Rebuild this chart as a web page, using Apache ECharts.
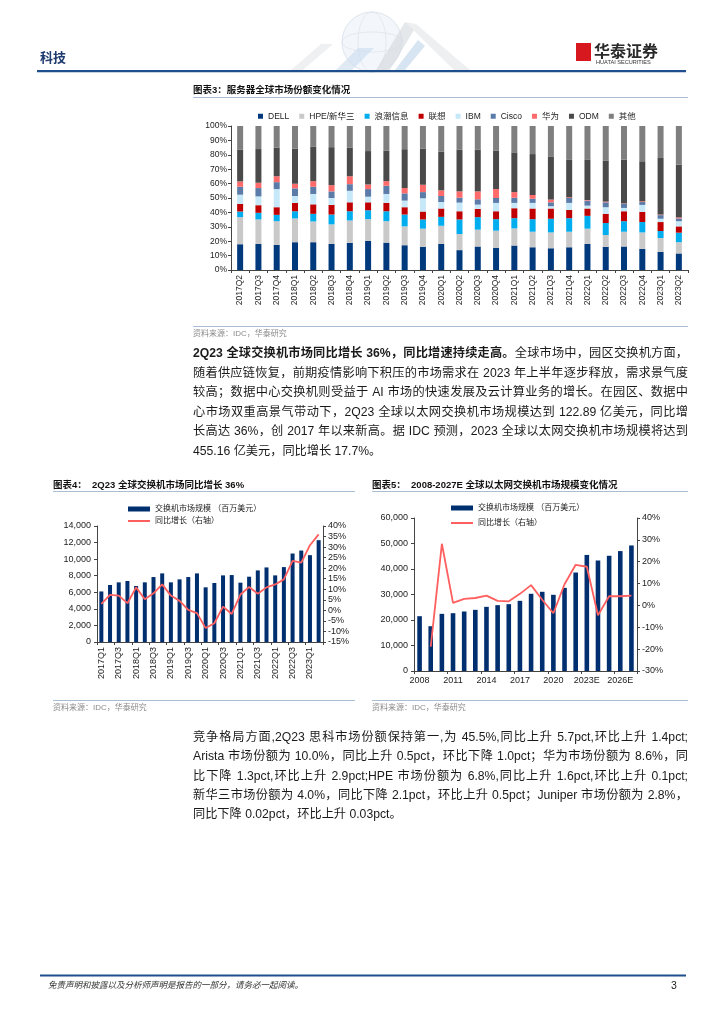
<!DOCTYPE html>
<html lang="zh-CN"><head><meta charset="utf-8">
<script src="https://cdn.jsdelivr.net/npm/echarts@6/dist/echarts.min.js"></script>
<style>
html,body{margin:0;padding:0;background:#fff;}
#chart{position:absolute;left:0;top:0;width:724px;height:1024px;}
.ln{position:absolute;left:193px;width:495px;height:16px;line-height:16px;font-family:"Liberation Sans","Noto Sans CJK SC",sans-serif;font-size:12.2px;color:#1a1a1a;text-align:justify;text-align-last:justify;overflow:visible;}
.ln.last{text-align-last:left;}
.ln b{font-weight:bold;}
</style></head>
<body>
<div id="chart"></div>
<div class="ln" style="top:345px"><b>2Q23 全球交换机市场同比增长 36%，同比增速持续走高。</b>全球市场中，园区交换机方面，</div>
<div class="ln" style="top:364.5px">随着供应链恢复，前期疫情影响下积压的市场需求在 2023 年上半年逐步释放，需求景气度</div>
<div class="ln" style="top:384px">较高；数据中心交换机则受益于 AI 市场的快速发展及云计算业务的增长。在园区、数据中</div>
<div class="ln" style="top:403.5px">心市场双重高景气带动下，2Q23 全球以太网交换机市场规模达到 122.89 亿美元，同比增</div>
<div class="ln" style="top:423px">长高达 36%，创 2017 年以来新高。据 IDC 预测，2023 全球以太网交换机市场规模将达到</div>
<div class="ln last" style="top:442.5px">455.16 亿美元，同比增长 17.7%。</div>
<div class="ln" style="top:729px">竞争格局方面,2Q23 思科市场份额保持第一,为 45.5%,同比上升 5.7pct,环比上升 1.4pct;</div>
<div class="ln" style="top:748px">Arista 市场份额为 10.0%，同比上升 0.5pct，环比下降 1.0pct；华为市场份额为 8.6%，同</div>
<div class="ln" style="top:767.5px">比下降 1.3pct,环比上升 2.9pct;HPE 市场份额为 6.8%,同比上升 1.6pct,环比上升 0.1pct;</div>
<div class="ln" style="top:787px">新华三市场份额为 4.0%，同比下降 2.1pct，环比上升 0.5pct；Juniper 市场份额为 2.8%，</div>
<div class="ln last" style="top:806px">同比下降 0.02pct，环比上升 0.03pct。</div>
<script>
// ---------- Chart 3: server market share ----------
const serverQuarters = ['2017Q2','2017Q3','2017Q4','2018Q1','2018Q2','2018Q3','2018Q4','2019Q1','2019Q2','2019Q3','2019Q4','2020Q1','2020Q2','2020Q3','2020Q4','2021Q1','2021Q2','2021Q3','2021Q4','2022Q1','2022Q2','2022Q3','2022Q4','2023Q1','2023Q2'];
const dell   = [17.9,18.1,17.4,19.3,19.3,18.1,18.8,20.2,19.0,17.2,16.1,18.1,13.8,16.3,15.4,17.0,15.8,15.1,15.8,18.1,16.1,16.3,14.7,12.6,11.5];
const hpeH3c = [18.8,17.0,16.5,16.5,14.4,13.6,15.6,15.1,14.9,13.1,12.6,12.6,11.2,11.7,11.9,11.9,10.8,11.0,10.8,10.6,8.2,10.3,11.4,9.6,7.8];
const inspur = [3.9,4.6,4.4,5.0,5.3,6.8,6.4,6.2,6.9,8.2,6.4,6.2,10.1,8.7,8.0,7.1,8.7,9.5,9.4,8.9,8.3,7.3,7.2,4.9,6.6];
const lenovo = [5.3,5.3,5.3,5.8,6.6,6.7,6.2,5.5,5.8,5.1,5.5,5.8,5.7,5.7,5.5,6.9,7.4,7.1,5.7,5.1,6.4,6.9,7.1,6.2,4.4];
const ibm    = [6.4,6.1,12.6,4.8,7.2,4.8,8.0,3.9,6.2,4.6,9.2,4.5,6.0,3.0,5.8,3.7,3.9,1.6,4.9,2.0,4.6,2.3,4.8,2.3,3.6];
const cisco  = [5.5,5.8,4.8,5.3,5.0,4.6,4.6,5.3,5.7,5.0,4.3,4.2,3.4,3.7,3.4,3.6,2.9,2.7,3.4,3.5,3.4,3.0,2.0,2.5,1.9];
const huawei = [3.7,3.7,4.1,3.2,3.9,4.3,5.5,3.2,3.2,3.7,5.1,3.9,4.4,5.5,6.2,3.9,2.6,1.9,0.5,0.4,0.5,0.2,0.5,0.4,0.7];
const odm    = [22.2,23.4,20.0,24.3,24.1,26.4,20.0,23.2,21.3,27.0,25.2,27.0,29.1,29.1,26.8,27.6,28.4,30.0,26.3,28.2,28.6,30.3,27.8,39.3,36.6];
const others = [16.3,16.0,14.9,15.8,14.2,14.7,14.9,17.4,17.0,16.1,15.6,17.7,16.3,16.3,17.0,18.3,19.5,21.1,23.2,23.2,23.9,23.4,24.5,22.2,26.9];
const vendorNames = ['DELL','HPE/新华三','浪潮信息','联想','IBM','Cisco','华为','ODM','其他'];
const vendorColors = ['#003a7d','#c9c9c9','#00aeef','#c00000','#c6e8f8','#5b7ca8','#ff6b6b','#4a4a4a','#7f7f7f'];
const vendorData = [dell,hpeH3c,inspur,lenovo,ibm,cisco,huawei,odm,others];

// ---------- Chart 4: quarterly switch market ----------
const switchQuarters = ['2017Q1','2017Q2','2017Q3','2017Q4','2018Q1','2018Q2','2018Q3','2018Q4','2019Q1','2019Q2','2019Q3','2019Q4','2020Q1','2020Q2','2020Q3','2020Q4','2021Q1','2021Q2','2021Q3','2021Q4','2022Q1','2022Q2','2022Q3','2022Q4','2023Q1','2023Q2'];
const switchRevenue = [6100,6880,7200,7360,6760,7200,7840,8280,7200,7560,7840,8280,6600,7120,8040,8080,7160,7880,8640,9000,8040,9040,10680,11040,10480,12289];
const switchYoY = [3.1,7.3,7.0,3.4,10.9,5.3,8.1,12.3,7.0,4.5,0.2,-1.3,-8.4,-6.1,1.8,-1.7,7.5,11.1,7.9,10.9,12.3,14.7,23.5,22.6,30.9,36.0];

// ---------- Chart 5: annual ethernet switch market ----------
const years = ['2008','2009','2010','2011','2012','2013','2014','2015','2016','2017','2018','2019','2020','2021','2022','2023E','2024E','2025E','2026E','2027E'];
const marketSize = [21490,17560,22410,22670,23330,23980,25160,25820,26210,27520,30280,31060,29880,32600,38620,45516,43340,45190,47030,49230];
const marketYoY = [null,-18.9,28.2,1.2,3.0,3.4,4.5,2.1,1.9,5.3,9.3,2.6,-3.6,9.7,18.6,17.7,-4.5,4.2,4.2,4.5];

const barName = '交换机市场规模 （百万美元）';
const lineName = '同比增长（右轴）';
const FONT = '"Liberation Sans","Noto Sans CJK SC",sans-serif';
const navy = '#002f6f', salmon = '#ff5f5f', axisC = '#444', labelC = '#222';
const comma = v => String(v).replace(/\B(?=(\d{3})+(?!\d))/g, ',');

function txt(x, y, text, size, opts) {
  opts = opts || {};
  return {type:'text', z:10, style:{x:x, y:y, text:text, fill:opts.fill||'#111',
    font:(opts.style||'normal')+' '+(opts.weight||'normal')+' '+size+'px '+(opts.family||FONT),
    textAlign:opts.align||'left', textVerticalAlign:'middle'}};
}
function hline(x1, x2, y, color, w) {
  return {type:'line', z:5, shape:{x1:x1,y1:y,x2:x2,y2:y}, style:{stroke:color, lineWidth:w||1}};
}
function poly(points, fill) {
  return {type:'polygon', z:1, shape:{points:points}, style:{fill:fill, opacity:0.6}};
}

const graphics = [
  // header decoration
  {type:'circle', z:1, shape:{cx:372, cy:42, r:30}, style:{fill:'rgba(232,238,245,0.5)', stroke:'#dde4ec', lineWidth:1}},
  {type:'ellipse', z:1, shape:{cx:372, cy:42, rx:14, ry:30}, style:{fill:'none', stroke:'#e0e6ed', lineWidth:0.8}},
  {type:'ellipse', z:1, shape:{cx:372, cy:42, rx:30, ry:10}, style:{fill:'none', stroke:'#e0e6ed', lineWidth:0.8}},
  poly([[291,70],[303,70],[333,44],[321,44]], '#e3e6ea'),
  poly([[336,70],[352,70],[374,48],[358,48]], '#c9dcef'),
  poly([[376,70],[390,70],[414,30],[405,22]], '#d3d8de'),
  poly([[405,22],[416,24],[470,70],[454,70]], '#e1e4e8'),
  poly([[395,70],[405,70],[425,46],[418,40]], '#bcd2ea'),
  // header
  txt(40, 58, '科技', 13, {weight:'bold', fill:'#1f3a6e'}),
  {type:'rect', z:5, shape:{x:37, y:70, width:649, height:2.2}, style:{fill:'#1f4e8c'}},
  {type:'rect', z:5, shape:{x:576, y:43, width:15, height:18}, style:{fill:'#d7191f'}},
  poly([[583.5,45],[589,51],[583.5,57],[578,51]], '#ffffff'),
  {type:'rect', z:6, shape:{x:582, y:50, width:3, height:9}, style:{fill:'#d7191f'}},
  txt(594, 51, '华泰证券', 16, {weight:'bold', fill:'#2a2a2a', family:'"Noto Sans CJK SC",sans-serif'}),
  txt(596, 62.5, 'HUATAI SECURITIES', 5.6, {fill:'#333'}),
  // chart 3 title & source
  txt(193, 90, '图表3：服务器全球市场份额变化情况', 9.5, {weight:'bold'}),
  hline(193, 688, 97.5, '#a9bdd5', 1),
  hline(193, 688, 326.5, '#a9bdd5', 1),
  txt(193, 334, '资料来源：IDC，华泰研究', 8, {fill:'#8a8a8a'}),
  // chart 4 title & source
  txt(53, 485, '图表4：  2Q23 全球交换机市场同比增长 36%', 9.5, {weight:'bold'}),
  hline(53, 355, 491.5, '#a9bdd5', 1),
  hline(53, 355, 700.5, '#a9bdd5', 1),
  txt(53, 708, '资料来源：IDC，华泰研究', 8, {fill:'#8a8a8a'}),
  // chart 5 title & source
  txt(372, 485, '图表5：  2008-2027E 全球以太网交换机市场规模变化情况', 9.5, {weight:'bold'}),
  hline(372, 688, 491.5, '#a9bdd5', 1),
  hline(372, 688, 700.5, '#a9bdd5', 1),
  txt(372, 708, '资料来源：IDC，华泰研究', 8, {fill:'#8a8a8a'}),
  // footer
  {type:'rect', z:5, shape:{x:40, y:974.5, width:646, height:2}, style:{fill:'#1f4e8c'}},
  txt(48, 986, '免责声明和披露以及分析师声明是报告的一部分，请务必一起阅读。', 8.5, {style:'italic', fill:'#333'}),
  txt(674, 986, '3', 10.5, {fill:'#222', align:'center'})
];
// fix opacity of the white logo mark
graphics[11].style.opacity = 1;

const baseLabel = {color:labelC, fontFamily:FONT};
const baseLine = {show:true, lineStyle:{color:axisC, width:1}};
const baseTick = {show:true, length:3, lineStyle:{color:axisC}};

const series = vendorNames.map((n, i) => ({
  name:n, type:'bar', stack:'share', xAxisIndex:0, yAxisIndex:0, barWidth:6,
  itemStyle:{color:vendorColors[i]}, data:vendorData[i], animation:false
}));
series.push(
  {name:barName, type:'bar', xAxisIndex:1, yAxisIndex:1, barWidth:4, itemStyle:{color:navy}, data:switchRevenue, animation:false},
  {name:lineName, type:'line', xAxisIndex:1, yAxisIndex:2, symbol:'none', lineStyle:{color:salmon, width:1.8}, itemStyle:{color:salmon}, data:switchYoY, z:5, animation:false},
  {name:barName, type:'bar', xAxisIndex:2, yAxisIndex:3, barWidth:4.6, itemStyle:{color:navy}, data:marketSize, animation:false},
  {name:lineName, type:'line', xAxisIndex:2, yAxisIndex:4, symbol:'none', connectNulls:false, lineStyle:{color:salmon, width:1.8}, itemStyle:{color:salmon}, data:marketYoY, z:5, animation:false}
);

const legendText = {color:'#222', fontSize:8.5, fontFamily:FONT};
const smallText = {color:'#222', fontSize:8, fontFamily:FONT};
const option = {
  animation:false,
  textStyle:{fontFamily:FONT},
  graphic:graphics,
  grid:[
    {left:231, top:126, width:457, height:144},
    {left:97, top:526, width:226, height:116},
    {left:414, top:518, width:223, height:153}
  ],
  legend:[
    {data:vendorNames, left:258, top:112, padding:0, itemWidth:5, itemHeight:5, itemGap:10, icon:'rect', textStyle:legendText},
    {data:[barName], left:128, top:505, padding:0, itemWidth:22, itemHeight:5, icon:'rect', textStyle:smallText},
    {data:[lineName], left:128, top:517, padding:0, itemWidth:22, itemHeight:2, icon:'rect', textStyle:smallText},
    {data:[barName], left:451, top:504, padding:0, itemWidth:22, itemHeight:5, icon:'rect', textStyle:smallText},
    {data:[lineName], left:451, top:519, padding:0, itemWidth:22, itemHeight:2, icon:'rect', textStyle:smallText}
  ],
  xAxis:[
    {type:'category', gridIndex:0, data:serverQuarters, axisLine:baseLine, axisTick:baseTick,
     axisLabel:Object.assign({rotate:90, fontSize:8.5, interval:0, margin:5}, baseLabel)},
    {type:'category', gridIndex:1, data:switchQuarters, axisLine:baseLine, axisTick:Object.assign({interval:1}, baseTick),
     axisLabel:Object.assign({rotate:90, fontSize:9, interval:1, margin:5}, baseLabel)},
    {type:'category', gridIndex:2, data:years, axisLine:baseLine, axisTick:Object.assign({interval:2}, baseTick),
     axisLabel:Object.assign({fontSize:9, interval:2, margin:5}, baseLabel)}
  ],
  yAxis:[
    {type:'value', gridIndex:0, min:0, max:100, interval:10, axisLine:baseLine, axisTick:baseTick, splitLine:{show:false},
     axisLabel:Object.assign({fontSize:8.5, margin:4, formatter:'{value}%'}, baseLabel)},
    {type:'value', gridIndex:1, min:0, max:14000, interval:2000, axisLine:baseLine, axisTick:baseTick, splitLine:{show:false},
     axisLabel:Object.assign({fontSize:9, margin:6, formatter:comma}, baseLabel)},
    {type:'value', gridIndex:1, position:'right', min:-15, max:40, interval:5, axisLine:baseLine, axisTick:baseTick, splitLine:{show:false},
     axisLabel:Object.assign({fontSize:9, margin:5, formatter:'{value}%'}, baseLabel)},
    {type:'value', gridIndex:2, min:0, max:60000, interval:10000, axisLine:baseLine, axisTick:baseTick, splitLine:{show:false},
     axisLabel:Object.assign({fontSize:9, margin:6, formatter:comma}, baseLabel)},
    {type:'value', gridIndex:2, position:'right', min:-30, max:40, interval:10, axisLine:baseLine, axisTick:baseTick, splitLine:{show:false},
     axisLabel:Object.assign({fontSize:9, margin:5, formatter:'{value}%'}, baseLabel)}
  ],
  series:series
};
const chart = echarts.init(document.getElementById('chart'), null, {renderer:'canvas', width:724, height:1024});
chart.setOption(option);
</script>
</body></html>
